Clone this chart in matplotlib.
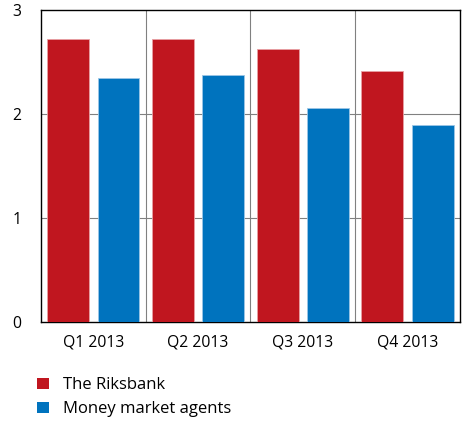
import matplotlib
matplotlib.use("Agg")
import matplotlib.pyplot as plt
import numpy as np

plt.rcParams['font.family'] = ['Open Sans', 'DejaVu Sans']

quarters = ["Q1 2013", "Q2 2013", "Q3 2013", "Q4 2013"]
riksbank = [2.72, 2.72, 2.63, 2.41]
money_market = [2.35, 2.38, 2.06, 1.89]
y_ticks = [0, 1, 2, 3]

red = "#C0161F"
blue = "#0073BE"

fig = plt.figure(figsize=(4.65, 4.21), dpi=100)
ax = fig.add_axes([0.0882, 0.2352, 0.9008, 0.7408])

x = np.arange(len(quarters))
w = 0.40
off = 0.24
ax.bar(x - off, riksbank, w, color=red, edgecolor="#E8A0A4", linewidth=0.6,
       label="The Riksbank", zorder=3)
ax.bar(x + off, money_market, w, color=blue, edgecolor="#9CC6E6", linewidth=0.6,
       label="Money market agents", zorder=3)

ax.set_xlim(-0.5, len(quarters) - 0.5)
ax.set_ylim(0, 3)
ax.set_yticks(y_ticks)
ax.set_xticks(x)
ax.set_xticklabels(quarters)

for yv in y_ticks[1:-1]:
    ax.axhline(yv, color="#808080", linewidth=0.8, zorder=1)
for xv in x[:-1] + 0.5:
    ax.axvline(xv, color="#808080", linewidth=0.8, zorder=1)

for s in ax.spines.values():
    s.set_color("black")
    s.set_linewidth(1.0)

ax.tick_params(axis="both", length=0, labelsize=11.3, colors="black")
ax.tick_params(axis="y", pad=14)
ax.tick_params(axis="x", pad=9)

handles, labels = ax.get_legend_handles_labels()
leg = fig.legend(handles, labels, loc="upper left", bbox_to_anchor=(0.066, 0.12),
                 frameon=False, fontsize=12, handlelength=0.68, handleheight=0.68,
                 handletextpad=0.85, labelspacing=0.5, borderaxespad=0)
for h in leg.legend_handles:
    h.set_edgecolor("none")

fig.savefig("out.png", dpi=100)
